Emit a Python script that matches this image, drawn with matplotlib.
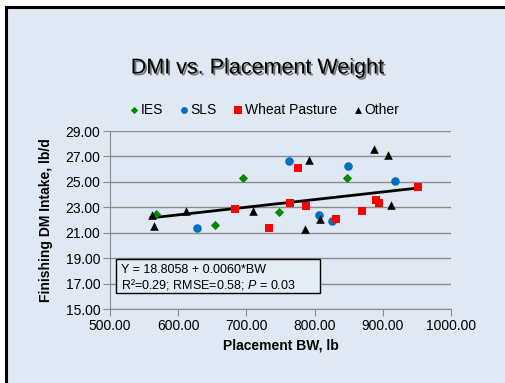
"""DMI vs. placement weight scatter with regression line."""

import matplotlib

matplotlib.use("Agg")
import matplotlib.pyplot as plt
import matplotlib.patheffects as pe
from matplotlib.lines import Line2D
from matplotlib.patches import Rectangle

plt.rcParams["font.family"] = ["Liberation Sans", "DejaVu Sans"]
plt.rcParams["mathtext.fontset"] = "custom"
plt.rcParams["mathtext.it"] = "Liberation Sans:italic"
plt.rcParams["mathtext.rm"] = "Liberation Sans"

# data (placement BW, lb ; finishing DMI, lb/d)
ies_bw = [567, 654, 695, 748, 848]
ies_dmi = [22.47, 21.61, 25.30, 22.60, 25.33]

sls_bw = [627, 762, 806, 825, 849, 918]
sls_dmi = [21.35, 26.66, 22.37, 21.93, 26.27, 25.09]

wheat_bw = [684, 733, 764, 775, 788, 832, 869, 890, 894, 951]
wheat_dmi = [22.90, 21.38, 23.34, 26.08, 23.10, 22.06, 22.69, 23.57, 23.31, 24.60]

other_bw = [561, 565, 611, 709, 786, 792, 808, 887, 907, 912]
other_dmi = [22.43, 21.51, 22.69, 22.71, 21.27, 26.71, 22.11, 27.55, 27.10, 23.20]

fit_intercept = 18.8058
fit_slope = 0.0060
fit_range = [560, 953]

x_ticks = [500, 600, 700, 800, 900, 1000]
y_ticks = [15, 17, 19, 21, 23, 25, 27, 29]

BG = "#dfe8f3"
GRID = "#8c8c8c"

W, H = 505, 383
fig = plt.figure(figsize=(W / 100, H / 100), dpi=100, facecolor="white")

# slide-like panel with black left/top border
fig.patches.append(Rectangle((6 / W, 0), 1, 1 - 7 / H, transform=fig.transFigure,
                             facecolor=BG, edgecolor="none", zorder=-10))
fig.add_artist(Line2D([6 / W, 6 / W], [0, 1 - 7 / H], transform=fig.transFigure,
                      color="black", lw=2.2, zorder=-5))
fig.add_artist(Line2D([6 / W, 1], [1 - 7 / H, 1 - 7 / H], transform=fig.transFigure,
                      color="black", lw=2.2, zorder=-5))

ax = fig.add_axes([110 / W, 1 - 309 / H, 341 / W, 178 / H])
ax.set_facecolor("none")

ax.scatter(ies_bw, ies_dmi, marker="D", s=22, color="#008a00", zorder=3, label="IES", linewidths=0)
ax.scatter(sls_bw, sls_dmi, marker="o", s=38, color="#0070c0", zorder=3, label="SLS", linewidths=0)
ax.scatter(wheat_bw, wheat_dmi, marker="s", s=40, color="#ff0000", zorder=3, label="Wheat Pasture", linewidths=0)
ax.scatter(other_bw, other_dmi, marker="^", s=38, color="black", zorder=3, label="Other", linewidths=0)

fit_y = [fit_intercept + fit_slope * x for x in fit_range]
ax.plot(fit_range, fit_y, color="black", lw=2, zorder=2)

ax.set_xlim(500, 1000)
ax.set_ylim(15, 29)
ax.set_xticks(x_ticks)
ax.set_yticks(y_ticks)
ax.set_xticklabels([f"{v:.2f}" for v in x_ticks], fontsize=10)
ax.set_yticklabels([f"{v:.2f}" for v in y_ticks], fontsize=10)
ax.yaxis.grid(True, color=GRID, lw=1)
ax.set_axisbelow(True)
for side in ("top", "right"):
    ax.spines[side].set_visible(False)
for side in ("left", "bottom"):
    ax.spines[side].set_color(GRID)
ax.tick_params(axis="both", color=GRID, length=5, labelcolor="black", pad=2)

ax.set_xlabel("Placement BW, lb", fontsize=10, fontweight="bold", labelpad=4)
ax.set_ylabel("Finishing DM Intake, lb/d", fontsize=10, fontweight="bold", labelpad=9)

# equation box
ax.add_patch(Rectangle((0.017, 0.092), 0.600, 0.187, transform=ax.transAxes,
                       facecolor="#e4ecf6", edgecolor="black", lw=1, zorder=4))
ax.text(0.031, 0.219, "Y = 18.8058 + 0.0060*BW", transform=ax.transAxes,
        fontsize=9, va="center", ha="left", zorder=5)
ax.text(0.031, 0.139, "R²=0.29; RMSE=0.58; $P$ = 0.03", transform=ax.transAxes,
        fontsize=9, va="center", ha="left", zorder=5)

fig.text(257 / W, 1 - 68 / H, "DMI vs. Placement Weight", ha="center", va="center",
         fontsize=15.5,
         path_effects=[pe.SimplePatchShadow(offset=(1.3, -1.3), shadow_rgbFace="#444444", alpha=0.7),
                       pe.Normal()])

fig.legend(loc="center", bbox_to_anchor=(263 / W, 1 - 110 / H), ncol=4, frameon=False,
           fontsize=10, handletextpad=0.0, columnspacing=1.0, borderaxespad=0,
           handlelength=1.0, markerscale=0.8)

fig.savefig("out.png", dpi=100, facecolor=fig.get_facecolor())
